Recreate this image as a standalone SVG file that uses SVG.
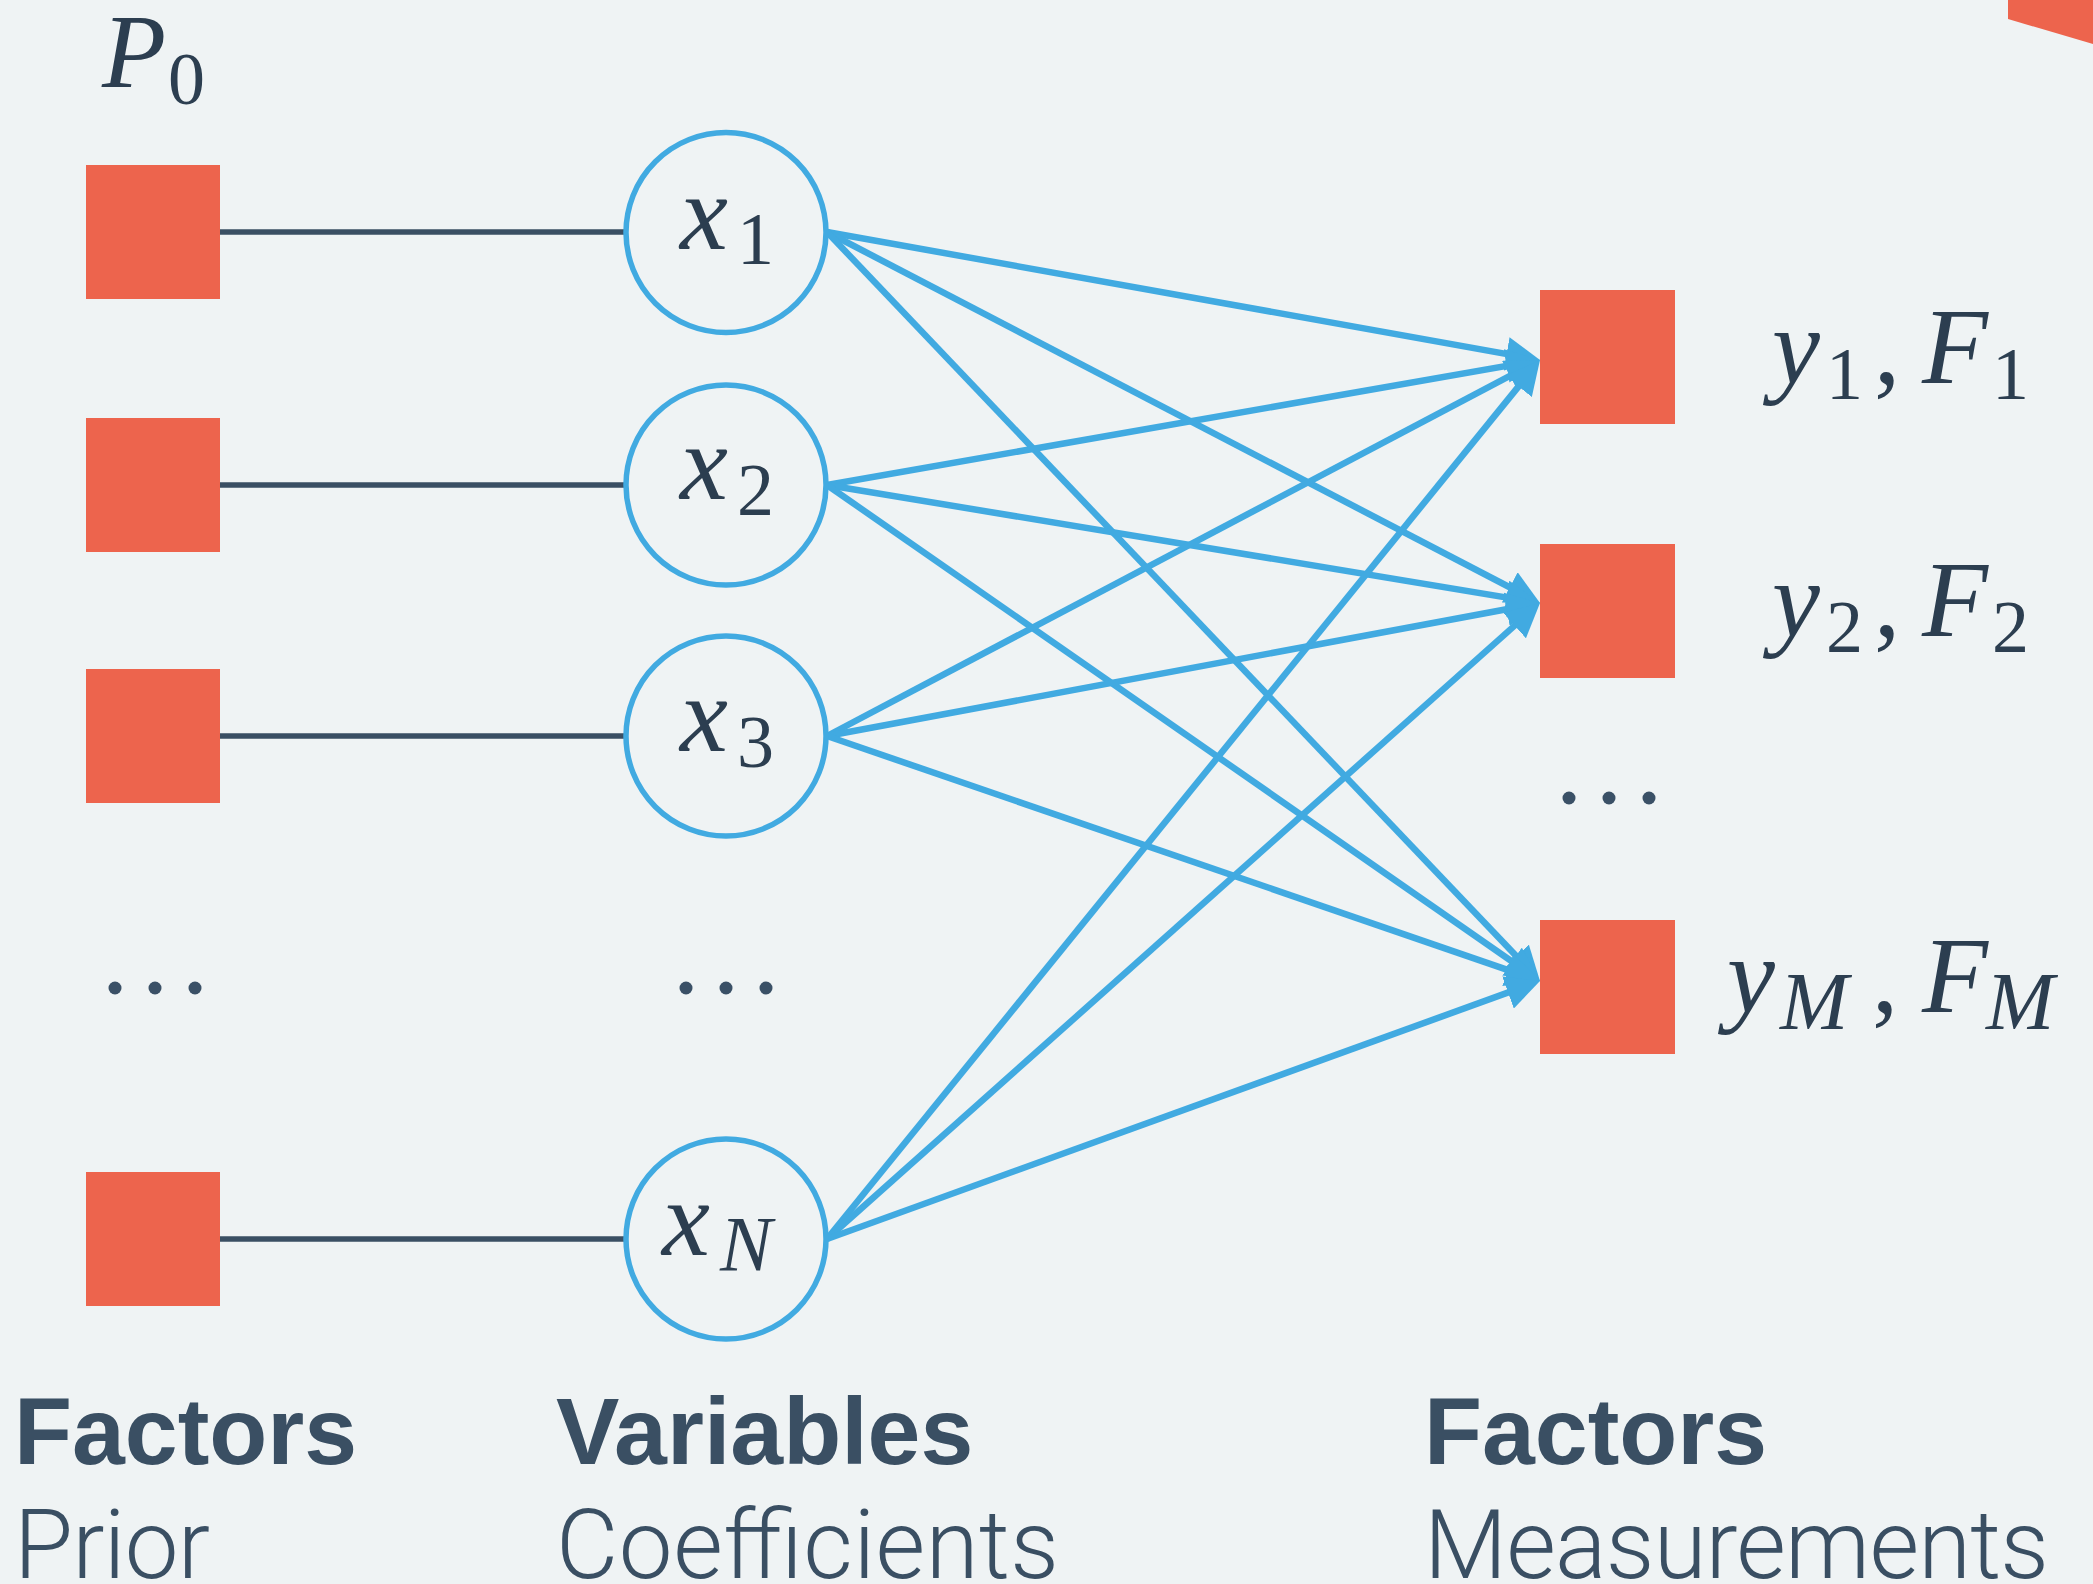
<svg xmlns="http://www.w3.org/2000/svg" width="2093" height="1584" viewBox="0 0 2093 1584">
  <style>
    .factor { fill: #ed644d; }
    .var { fill: #eff3f4; stroke: #41aae1; stroke-width: 5.5; }
    .tie { stroke: #3a4f63; stroke-width: 5.5; fill: none; }
    .edge { stroke: #41aae1; stroke-width: 6.5; fill: none; marker-end: url(#arrow); }
    .dot { fill: #3a5066; }
    .math { font-family: "Liberation Serif", "DejaVu Serif", serif; fill: #2c3e50; }
    .it { font-style: italic; }
    .head { font-family: "Liberation Sans", Arial, sans-serif; font-weight: bold; font-size: 95px; fill: #3a4f63; }
    .sub { font-family: Roboto, "Liberation Sans", Arial, sans-serif; font-weight: 300; font-size: 96px; fill: #3a4f63; }
  </style>
  <defs>
    <marker id="arrow" markerUnits="userSpaceOnUse" markerWidth="34" markerHeight="34" refX="22" refY="17" orient="auto">
      <path d="M0,0 L34,17 L0,34 Z" fill="#41aae1"/>
    </marker>
  </defs>

  <rect width="2093" height="1584" fill="#eff3f4"/>
  <polygon class="factor" points="2008,0 2008,19 2093,44 2093,0"/>

  <!-- prior label -->
  <text class="math" y="87"><tspan class="it" x="102" font-size="105">P</tspan><tspan x="168" y="104" font-size="74">0</tspan></text>

  <!-- prior factor ties -->
  <g id="ties">
    <line class="tie" x1="220" y1="232" x2="626" y2="232"/>
    <line class="tie" x1="220" y1="485" x2="626" y2="485"/>
    <line class="tie" x1="220" y1="736" x2="626" y2="736"/>
    <line class="tie" x1="220" y1="1239" x2="626" y2="1239"/>
  </g>

  <!-- measurement connectors -->
  <g id="connectors">
    <line class="edge" x1="827" y1="232" x2="1528.19" y2="357.88"/>
    <line class="edge" x1="827" y1="232" x2="1529.35" y2="597.46"/>
    <line class="edge" x1="827" y1="232" x2="1531.73" y2="972.31"/>
    <line class="edge" x1="827" y1="485" x2="1528.18" y2="362.07"/>
    <line class="edge" x1="827" y1="485" x2="1528.16" y2="601.04"/>
    <line class="edge" x1="827" y1="485" x2="1530.15" y2="974.15"/>
    <line class="edge" x1="827" y1="736" x2="1529.39" y2="365.60"/>
    <line class="edge" x1="827" y1="736" x2="1528.20" y2="605.20"/>
    <line class="edge" x1="827" y1="736" x2="1528.65" y2="977.10"/>
    <line class="edge" x1="827" y1="1239" x2="1532.44" y2="369.32"/>
    <line class="edge" x1="827" y1="1239" x2="1531.04" y2="610.99"/>
    <line class="edge" x1="827" y1="1239" x2="1528.72" y2="985.08"/>
  </g>

  <!-- prior factors -->
  <g id="prior1"><rect class="factor" x="86" y="165" width="134" height="134"/></g>
  <g id="prior2"><rect class="factor" x="86" y="418" width="134" height="134"/></g>
  <g id="prior3"><rect class="factor" x="86" y="669" width="134" height="134"/></g>
  <g id="priorN"><rect class="factor" x="86" y="1172" width="134" height="134"/></g>
  <g id="prior-dots">
    <circle class="dot" cx="115" cy="988" r="6.5"/>
    <circle class="dot" cx="155" cy="988" r="6.5"/>
    <circle class="dot" cx="195" cy="988" r="6.5"/>
  </g>

  <!-- variables -->
  <g id="x1">
    <circle class="var" cx="726" cy="232.5" r="100"/>
    <text class="math" y="249"><tspan class="it" x="680" font-size="108">x</tspan><tspan x="737" y="264" font-size="74">1</tspan></text>
  </g>
  <g id="x2">
    <circle class="var" cx="726" cy="485" r="100"/>
    <text class="math" y="499"><tspan class="it" x="680" font-size="108">x</tspan><tspan x="737" y="515" font-size="74">2</tspan></text>
  </g>
  <g id="x3">
    <circle class="var" cx="726" cy="736" r="100"/>
    <text class="math" y="751"><tspan class="it" x="680" font-size="108">x</tspan><tspan x="737" y="767" font-size="74">3</tspan></text>
  </g>
  <g id="var-dots">
    <circle class="dot" cx="686" cy="988" r="6.5"/>
    <circle class="dot" cx="726" cy="988" r="6.5"/>
    <circle class="dot" cx="766" cy="988" r="6.5"/>
  </g>
  <g id="xN">
    <circle class="var" cx="726" cy="1239" r="100"/>
    <text class="math" y="1255"><tspan class="it" x="662" font-size="108">x</tspan><tspan class="it" x="720" y="1270" font-size="78">N</tspan></text>
  </g>

  <!-- measurement factors -->
  <g id="f1">
    <rect class="factor" x="1540" y="290" width="135" height="134"/>
    <text class="math" y="383"><tspan class="it" x="1772" font-size="108">y</tspan><tspan x="1826" y="399" font-size="74">1</tspan><tspan x="1874" y="383" font-size="105">,</tspan><tspan class="it" x="1922" font-size="108">F</tspan><tspan x="1992" y="399" font-size="74">1</tspan></text>
  </g>
  <g id="f2">
    <rect class="factor" x="1540" y="544" width="135" height="134"/>
    <text class="math" y="636"><tspan class="it" x="1772" font-size="108">y</tspan><tspan x="1826" y="652" font-size="74">2</tspan><tspan x="1874" y="636" font-size="105">,</tspan><tspan class="it" x="1922" font-size="108">F</tspan><tspan x="1992" y="652" font-size="74">2</tspan></text>
  </g>
  <g id="f-dots">
    <circle class="dot" cx="1569" cy="798" r="6.5"/>
    <circle class="dot" cx="1609" cy="798" r="6.5"/>
    <circle class="dot" cx="1649" cy="798" r="6.5"/>
  </g>
  <g id="fM">
    <rect class="factor" x="1540" y="920" width="135" height="134"/>
    <text class="math" y="1012"><tspan class="it" x="1727" font-size="108">y</tspan><tspan class="it" x="1780" y="1029" font-size="82">M</tspan><tspan x="1872" y="1012" font-size="105">,</tspan><tspan class="it" x="1922" font-size="108">F</tspan><tspan class="it" x="1986" y="1029" font-size="82">M</tspan></text>
  </g>

  <!-- column captions -->
  <g id="captions">
    <text class="head" x="14" y="1464">Factors</text>
    <text class="head" x="556" y="1464">Variables</text>
    <text class="head" x="1424" y="1464">Factors</text>
    <text class="sub" x="14" y="1578" textLength="196" lengthAdjust="spacing">Prior</text>
    <text class="sub" x="556" y="1578" textLength="503" lengthAdjust="spacing">Coefficients</text>
    <text class="sub" x="1424" y="1578" textLength="625" lengthAdjust="spacing">Measurements</text>
  </g>
</svg>
